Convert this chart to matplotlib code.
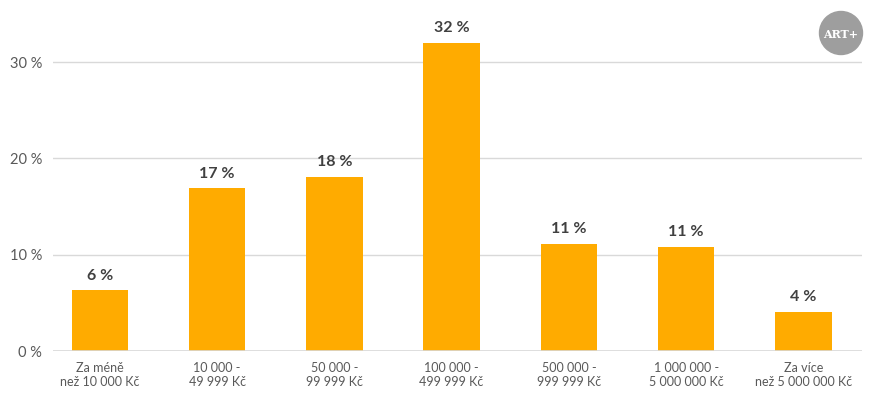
import matplotlib
matplotlib.use("Agg")
import matplotlib.pyplot as plt
from matplotlib.patches import Ellipse

plt.rcParams['font.family'] = ['Lato', 'DejaVu Sans']

categories = ["Za méně\nnež 10 000 Kč", "10 000 -\n49 999 Kč", "50 000 -\n99 999 Kč",
              "100 000 -\n499 999 Kč", "500 000 -\n999 999 Kč", "1 000 000 -\n5 000 000 Kč",
              "Za více\nnež 5 000 000 Kč"]
values = [6.3, 16.9, 18.1, 32.0, 11.1, 10.8, 4.1]
labels = ["6 %", "17 %", "18 %", "32 %", "11 %", "11 %", "4 %"]
yticks = [0, 10, 20, 30]

fig = plt.figure(figsize=(8.77, 3.98), dpi=100)
ax = fig.add_axes([53 / 877, 0.118, 809 / 877, 0.847])

x = range(len(categories))
bars = ax.bar(x, values, width=0.48, color="#FFAB00", zorder=3)
for b, lab in zip(bars, labels):
    ax.text(b.get_x() + b.get_width() / 2, b.get_height() + 0.8, lab,
            ha="center", va="bottom", fontsize=11.5, fontweight="bold", color="#404040")

ax.set_xlim(-0.40, len(categories) - 0.5)
ax.set_ylim(0, 35)
ax.set_yticks(yticks)
ax.set_yticklabels([f"{t} %" for t in yticks], fontsize=10.5, color="#595959")
ax.set_xticks(list(x))
ax.set_xticklabels(categories, fontsize=9, color="#595959", linespacing=1.15)
ax.tick_params(length=0)
ax.tick_params(axis="x", pad=8)
ax.tick_params(axis="y", pad=8)
ax.yaxis.grid(True, color="#d9d9d9", linewidth=1, zorder=0)
for s in ax.spines.values():
    s.set_visible(False)
ax.axhline(0, color="#d9d9d9", linewidth=1.2, zorder=4)

# logo
fig.patches.append(Ellipse((841 / 877, 1 - 33 / 398), 43 / 877, 43 / 398,
                           transform=fig.transFigure, color="#9e9e9e", zorder=10))
fig.text(841 / 877, 1 - 34 / 398, "ART+", ha="center", va="center", color="white",
         fontsize=8, fontweight="bold", family=["DejaVu Serif"], zorder=11)

fig.savefig("out.png", dpi=100)
